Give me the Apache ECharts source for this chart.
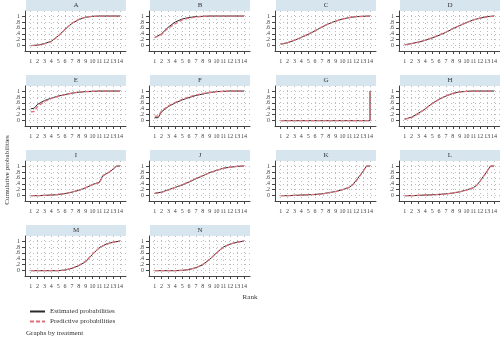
<!DOCTYPE html>
<html><head><meta charset="utf-8">
<script src="https://cdn.jsdelivr.net/npm/echarts@6/dist/echarts.min.js"></script>
<style>html,body{margin:0;padding:0;background:#fff}#c{width:500px;height:338px}</style>
</head><body><div id="c"></div>
<script>
const panels = ['A','B','C','D','E','F','G','H','I','J','K','L','M','N'];
const rank = [1,2,3,4,5,6,7,8,9,10,11,12,13,14];
const rankEF = [1,1.5,2,3,4,5,6,7,8,9,10,11,12,13,14];
const rankG = [1,2,3,4,5,6,7,8,9,10,11,12,13,14,14];
const rankIKL = [1,2,3,4,5,6,7,8,9,10,11,11.5,12,12.5,13,13.5,14];
const yTicks = [0,0.2,0.4,0.6,0.8,1];
const yTickLabels = ['0','.2','.4','.6','.8','1'];

const estA = [0,0.02,0.07,0.15,0.33,0.55,0.75,0.88,0.96,0.99,1,1,1,1];
const predA = [0,0.02,0.06,0.14,0.32,0.55,0.76,0.89,0.96,0.99,1,1,1,1];
const estB = [0.27,0.4,0.63,0.8,0.9,0.95,0.98,0.99,1,1,1,1,1,1];
const predB = [0.27,0.38,0.6,0.74,0.87,0.93,0.97,0.99,1,1,1,1,1,1];
const estC = [0.05,0.1,0.18,0.28,0.38,0.5,0.63,0.74,0.83,0.9,0.95,0.98,0.99,1];
const predC = [0.05,0.1,0.19,0.28,0.39,0.51,0.63,0.74,0.83,0.9,0.95,0.98,0.99,1];
const estD = [0.03,0.07,0.12,0.18,0.26,0.35,0.45,0.57,0.68,0.78,0.87,0.93,0.98,1];
const predD = [0.03,0.07,0.12,0.19,0.27,0.36,0.46,0.57,0.68,0.78,0.87,0.93,0.97,1];
const estE = [0.4,0.42,0.55,0.68,0.76,0.83,0.88,0.93,0.96,0.98,0.99,1,1,1,1];
const predE = [0.3,0.31,0.47,0.65,0.75,0.82,0.88,0.93,0.96,0.98,0.99,1,1,1,1];
const estF = [0.1,0.1,0.3,0.48,0.6,0.7,0.78,0.85,0.9,0.95,0.98,0.99,1,1,1];
const predF = [0.15,0.15,0.33,0.5,0.62,0.72,0.8,0.87,0.92,0.95,0.98,0.99,1,1,1];
const estG = [0,0,0,0,0,0,0,0,0,0,0,0,0,0,1];
const predG = [0,0,0,0,0,0,0,0,0,0,0,0,0,0,1];
const estH = [0.05,0.12,0.25,0.4,0.58,0.72,0.83,0.92,0.97,0.99,1,1,1,1];
const predH = [0.05,0.1,0.24,0.4,0.57,0.72,0.84,0.92,0.97,0.99,1,1,1,1];
const estI = [0,0,0.01,0.02,0.04,0.07,0.12,0.18,0.26,0.38,0.45,0.68,0.74,0.8,0.9,1,1];
const predI = [0,0,0.01,0.02,0.04,0.07,0.12,0.18,0.27,0.37,0.44,0.66,0.74,0.81,0.9,1,1];
const estJ = [0.08,0.12,0.2,0.28,0.36,0.46,0.57,0.67,0.78,0.85,0.93,0.96,0.99,1];
const predJ = [0.08,0.11,0.19,0.28,0.37,0.47,0.58,0.68,0.77,0.85,0.92,0.96,0.99,1];
const estK = [0,0,0.01,0.02,0.03,0.04,0.06,0.1,0.14,0.2,0.28,0.38,0.52,0.67,0.83,1,1];
const predK = [0,0,0.01,0.02,0.03,0.04,0.06,0.1,0.14,0.2,0.29,0.37,0.5,0.66,0.82,1,1];
const estL = [0,0,0.01,0.02,0.03,0.04,0.06,0.09,0.13,0.19,0.27,0.35,0.5,0.66,0.83,1,1];
const predL = [0,0,0.01,0.02,0.03,0.04,0.06,0.09,0.13,0.19,0.27,0.35,0.5,0.66,0.83,1,1];
const estM = [0,0,0,0,0,0.02,0.08,0.17,0.3,0.55,0.78,0.9,0.96,1];
const predM = [0,0,0,0,0,0.02,0.08,0.18,0.32,0.56,0.77,0.89,0.96,1];
const estN = [0,0,0,0,0.01,0.04,0.1,0.2,0.38,0.6,0.8,0.9,0.96,1];
const predN = [0,0,0,0,0.01,0.04,0.1,0.21,0.39,0.6,0.79,0.9,0.96,1];

const xs = {A:rank,B:rank,C:rank,D:rank,E:rankEF,F:rankEF,G:rankG,H:rank,I:rankIKL,J:rank,K:rankIKL,L:rankIKL,M:rank,N:rank};
const est = {A:estA,B:estB,C:estC,D:estD,E:estE,F:estF,G:estG,H:estH,I:estI,J:estJ,K:estK,L:estL,M:estM,N:estN};
const pred = {A:predA,B:predB,C:predC,D:predD,E:predE,F:predF,G:predG,H:predH,I:predI,J:predJ,K:predK,L:predL,M:predM,N:predN};

const FONT = 'Liberation Serif';
const colX = [26,150,276,400];
const rowT = [0,75,150,225];
const grids=[], xAxes=[], yAxes=[], series=[], graphics=[];
const gridLine = {show:true, lineStyle:{color:'#bbb', type:[1,3], width:1}};
panels.forEach((p,i)=>{
  const r = Math.floor(i/4), c = i%4;
  const x0 = colX[c], T = rowT[r];
  grids.push({left:x0-1, top:T+11, width:101, height:40});
  xAxes.push({type:'value', gridIndex:i, min:0.17, max:14.87,
    axisLine:{show:true, onZero:false, lineStyle:{color:'#444',width:1}},
    axisTick:{show:true, length:3, customValues:rank, lineStyle:{color:'#444'}},
    axisLabel:{customValues:rank, fontSize:6, fontFamily:FONT, color:'#444', margin:7},
    splitLine:gridLine});
  yAxes.push({type:'value', gridIndex:i, min:-0.18, max:1.17,
    axisLine:{show:true, onZero:false, lineStyle:{color:'#444',width:1}},
    axisTick:{show:true, length:3, customValues:yTicks, lineStyle:{color:'#444'}},
    axisLabel:{customValues:yTicks, fontSize:6, fontFamily:FONT, color:'#444', margin:5,
      formatter:v=>yTickLabels[yTicks.findIndex(t=>Math.abs(t-v)<1e-6)]},
    splitLine:gridLine});
  series.push({type:'line', name:'Estimated probabilities', xAxisIndex:i, yAxisIndex:i, symbol:'none',
    data: xs[p].map((x,k)=>[x, est[p][k]]), lineStyle:{color:'#2b2b2b', width:1}, itemStyle:{color:'#2b2b2b'}, silent:true, animation:false});
  series.push({type:'line', name:'Predictive probabilities', xAxisIndex:i, yAxisIndex:i, symbol:'none',
    data: xs[p].map((x,k)=>[x, pred[p][k]]), lineStyle:{color:'#e0707c', width:1.3, type:[4,2]}, itemStyle:{color:'#e0707c'}, silent:true, animation:false});
  graphics.push({type:'rect', left:x0, top:T, shape:{width:100, height:11}, style:{fill:'#d7e5ef'}, z:0});
  graphics.push({type:'text', x:x0+50, y:T+5.5, style:{text:p, font:'7px "Liberation Serif"', fill:'#333', textAlign:'center', textVerticalAlign:'middle'}});
});
graphics.push({type:'text', x:250, y:297, style:{text:'Rank', font:'7px "Liberation Serif"', fill:'#333', textAlign:'center', textVerticalAlign:'middle'}});
graphics.push({type:'text', x:7, y:170, rotation:Math.PI/2, style:{text:'Cumulative probabilities', font:'7px "Liberation Serif"', fill:'#333', textAlign:'center', textVerticalAlign:'middle'}});
graphics.push({type:'text', x:26, y:333, style:{text:'Graphs by treatment', font:'7px "Liberation Serif"', fill:'#333', textAlign:'left', textVerticalAlign:'middle'}});

const chart = echarts.init(document.getElementById('c'), null, {renderer:'canvas'});
chart.setOption({
  animation:false,
  backgroundColor:'#fff',
  grid:grids, xAxis:xAxes, yAxis:yAxes, series:series, graphic:graphics,
  legend:{data:['Estimated probabilities','Predictive probabilities'], orient:'vertical', left:24, top:303,
    itemWidth:15, itemHeight:6, itemGap:3, itemStyle:{opacity:0}, textStyle:{fontSize:7, fontFamily:FONT, color:'#333'}, selectedMode:false}
});
</script></body></html>
